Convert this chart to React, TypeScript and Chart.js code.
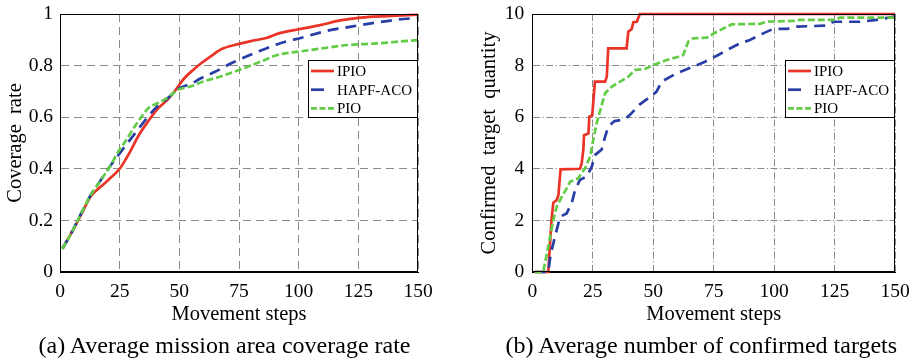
import React, { useEffect, useRef } from "react";
import { Chart, registerables } from "chart.js";

Chart.register(...registerables);

const FONT = '"Liberation Serif", "Times New Roman", Times, serif';

// ---------- (a) Average mission area coverage rate ----------
const stepsA_IPIO = [1, 5, 9, 13, 17, 20, 25, 29, 33, 37, 41, 45, 48, 52, 56, 59, 63, 68, 75, 80, 86, 92, 100, 109, 118, 126, 137, 150];
const coverageIPIO = [0.09, 0.155, 0.225, 0.295, 0.33, 0.355, 0.4, 0.46, 0.53, 0.585, 0.633, 0.667, 0.7, 0.75, 0.785, 0.808, 0.835, 0.865, 0.884, 0.895, 0.906, 0.926, 0.941, 0.957, 0.976, 0.986, 0.992, 0.997];

const stepsA_HAPF = [1, 5, 9, 13, 17, 21, 25, 30, 35, 40, 45, 50, 55, 59, 65, 72, 83, 92, 102, 112, 122, 132, 142, 150];
const coverageHAPF = [0.09, 0.155, 0.23, 0.3, 0.355, 0.41, 0.46, 0.52, 0.58, 0.635, 0.673, 0.712, 0.73, 0.751, 0.776, 0.81, 0.854, 0.886, 0.91, 0.935, 0.951, 0.966, 0.979, 0.985];

const stepsA_PIO = [1, 5, 9, 13, 17, 21, 24, 28, 31, 34, 37, 41, 45, 48, 50, 55, 60, 67, 75, 84, 91, 100, 110, 121, 133, 142, 150];
const coveragePIO = [0.09, 0.155, 0.23, 0.3, 0.355, 0.41, 0.46, 0.515, 0.56, 0.6, 0.635, 0.655, 0.675, 0.697, 0.708, 0.72, 0.738, 0.757, 0.783, 0.815, 0.841, 0.854, 0.867, 0.88, 0.886, 0.893, 0.899];

// ---------- (b) Average number of confirmed targets ----------
const stepsB_IPIO = [1, 6.6, 8.0, 8.7, 10.1, 10.8, 11.7, 19.7, 20.4, 21.1, 21.4, 23.2, 23.6, 24.8, 25.9, 30.1, 30.8, 31.4, 39.0, 39.7, 41.1, 41.8, 43.2, 44.5, 150];
const targetsIPIO = [0, 0, 2.08, 2.69, 2.79, 2.98, 3.98, 4, 4.2, 4.73, 5.3, 5.37, 6.02, 6.08, 7.38, 7.38, 7.57, 8.67, 8.67, 9.31, 9.42, 9.68, 9.7, 10, 10];

const stepsB_HAPF = [1, 6.6, 7.3, 8, 10.1, 11.5, 14.2, 16.3, 17.7, 19.7, 22.5, 24.6, 25.9, 28.7, 30.1, 31.4, 34, 38.3, 40.4, 44.5, 47.9, 51.4, 53.5, 59.7, 66.6, 71.4, 76.9, 80.4, 85.9, 90, 95.5, 99.6, 105.2, 109.3, 114.8, 121.8, 124.5, 135.5, 142.4, 150];
const targetsHAPF = [0, 0, 0.5, 0.85, 1.63, 2.14, 2.27, 2.67, 3.18, 3.57, 3.7, 4.08, 4.53, 4.75, 5.24, 5.63, 5.85, 5.92, 6.09, 6.5, 6.73, 6.99, 7.38, 7.7, 7.96, 8.15, 8.41, 8.6, 8.86, 8.99, 9.25, 9.42, 9.42, 9.51, 9.53, 9.55, 9.7, 9.7, 9.77, 9.9];

const stepsB_PIO = [1, 4.5, 6.6, 8.7, 10.1, 12.2, 14.2, 15.6, 19.0, 21.8, 23.9, 25.2, 26.6, 28.7, 30.1, 32.8, 36.3, 39.7, 42.5, 46.6, 50, 55.6, 60.4, 62.4, 64.5, 66.6, 72.1, 76.3, 82.5, 94.2, 96.9, 107.9, 110.7, 124.5, 127.2, 150];
const targetsPIO = [0, 0, 0.98, 2.02, 2.53, 2.92, 3.24, 3.5, 3.63, 4.02, 4.47, 5.12, 5.76, 6.47, 6.93, 7.18, 7.38, 7.57, 7.83, 7.87, 8.02, 8.22, 8.34, 8.41, 8.93, 9.06, 9.08, 9.31, 9.6, 9.62, 9.7, 9.73, 9.77, 9.77, 9.86, 9.86];

const seriesNames = ["IPIO", "HAPF-ACO", "PIO"];
const stepTicks = [0, 25, 50, 75, 100, 125, 150];
const coverageTicks = [0, 0.2, 0.4, 0.6, 0.8, 1];
const quantityTicks = [0, 2, 4, 6, 8, 10];

const COLORS = ["rgb(234,52,40)", "rgb(40,62,165)", "rgb(98,204,70)"];
const DASHES = [[], [11, 7], [7, 3]];
const LEGEND_DASHES = [[], [13, 40], [6, 2.5]];

function pts(xs: number[], ys: number[]) {
  return xs.map((x, i) => ({ x, y: ys[i] }));
}

const frameLegendPlugin = {
  id: "frameLegend",
  afterDatasetsDraw(chart: any) {
    const { ctx, chartArea: a } = chart;
    ctx.save();
    ctx.setLineDash([]);
    ctx.strokeStyle = "#000";
    ctx.lineWidth = 1;
    const L = Math.round(a.left) + 0.5;
    const T = Math.round(a.top) + 0.5;
    const R = Math.round(a.right) - 0.5;
    const B = Math.round(a.bottom) - 0.5;
    ctx.strokeRect(L, T, R - L, B - T);

    // legend box
    const w = 110;
    const h = 58;
    const x = Math.round(a.right) - w;
    const y = Math.round(a.top) + 46;
    ctx.fillStyle = "#fff";
    ctx.fillRect(x, y, w, h);
    ctx.strokeStyle = "#000";
    ctx.lineWidth = 1;
    ctx.strokeRect(x + 0.5, y + 0.5, w - 1, h - 1);
    chart.data.datasets.forEach((ds: any, i: number) => {
      const cy = y + 11 + i * 18.7;
      ctx.save();
      ctx.strokeStyle = ds.borderColor;
      ctx.lineWidth = ds.borderWidth;
      ctx.setLineDash(LEGEND_DASHES[i]);
      ctx.beginPath();
      ctx.moveTo(x + 3, cy);
      ctx.lineTo(x + 26, cy);
      ctx.stroke();
      ctx.restore();
      ctx.fillStyle = "#000";
      ctx.font = `15px ${FONT}`;
      ctx.textBaseline = "middle";
      ctx.textAlign = "left";
      ctx.fillText(ds.label, x + 29, cy + 1);
    });
    ctx.restore();
  },
};

type PanelProps = {
  width: number;
  xs: number[][];
  ys: number[][];
  yTicks: number[];
  yMax: number;
  yTitle: string;
  yAxisWidth: number;
  yTitlePad: number;
  yTickPad: number;
  gridDash: number[];
  padRight: number;
  smooth: boolean;
};

function ChartPanel(p: PanelProps) {
  const ref = useRef<HTMLCanvasElement | null>(null);
  useEffect(() => {
    if (!ref.current) return;
    const datasets = seriesNames.map((name, i) => ({
      label: name,
      data: pts(p.xs[i], p.ys[i]),
      borderColor: COLORS[i],
      backgroundColor: COLORS[i],
      borderWidth: 2.7,
      borderDash: DASHES[i],
      pointRadius: 0,
      fill: false,
      tension: 0,
      cubicInterpolationMode: p.smooth ? "monotone" : "default",
      clip: 4,
      order: 2 - i,
    }));
    const chart = new Chart(ref.current, {
      type: "line",
      data: { datasets } as any,
      options: {
        animation: false,
        responsive: false,
        maintainAspectRatio: false,
        layout: { padding: { left: 0, top: 14, right: p.padRight, bottom: 29 } },
        plugins: { legend: { display: false }, tooltip: { enabled: false } },
        scales: {
          x: {
            type: "linear",
            min: 0,
            max: 150,
            afterBuildTicks: (s: any) => {
              s.ticks = stepTicks.map((v) => ({ value: v }));
            },
            afterFit: (s: any) => {
              s.height = 60;
              s.paddingLeft = 0;
              s.paddingRight = 0;
            },
            ticks: {
              color: "#000",
              padding: 8,
              maxRotation: 0,
              autoSkip: false,
              font: { family: FONT, size: 19.5 },
              callback: (v: any) => String(v),
            },
            grid: { color: "#8a8a8a", lineWidth: 1, drawTicks: false },
            border: { display: true, color: "#000", width: 1, dash: p.gridDash },
            title: {
              display: true,
              text: "Movement steps",
              color: "#000",
              font: { family: FONT, size: 20.5 },
              padding: { top: 0, bottom: 5 },
            },
          },
          y: {
            type: "linear",
            min: 0,
            max: p.yMax,
            afterBuildTicks: (s: any) => {
              s.ticks = p.yTicks.map((v) => ({ value: v }));
            },
            afterFit: (s: any) => {
              s.width = p.yAxisWidth;
              s.paddingTop = 0;
              s.paddingBottom = 0;
            },
            ticks: {
              color: "#000",
              padding: p.yTickPad,
              autoSkip: false,
              font: { family: FONT, size: 19.5 },
              callback: (v: any) => String(v),
            },
            grid: { color: "#8a8a8a", lineWidth: 1, drawTicks: false },
            border: { display: true, color: "#000", width: 1, dash: p.gridDash },
            title: {
              display: true,
              text: p.yTitle,
              color: "#000",
              font: { family: FONT, size: 20.5 },
              padding: { top: p.yTitlePad, bottom: 0 },
            },
          },
        },
      } as any,
      plugins: [frameLegendPlugin],
    });
    return () => chart.destroy();
  }, []);
  return <canvas ref={ref} width={p.width} height={361} style={{ display: "block", width: p.width, height: 361 }} />;
}

const captionStyle: React.CSSProperties = {
  position: "absolute",
  top: 331,
  width: 520,
  textAlign: "center",
  fontFamily: FONT,
  fontSize: 24,
  lineHeight: "28px",
  whiteSpace: "nowrap",
  color: "#000",
};

export default function App() {
  return (
    <div style={{ position: "fixed", left: 0, top: 0, width: 918, height: 361, background: "#fff", overflow: "hidden" }}>
      <div style={{ position: "absolute", left: 0, top: 0 }}>
        <ChartPanel
          width={460}
          xs={[stepsA_IPIO, stepsA_HAPF, stepsA_PIO]}
          ys={[coverageIPIO, coverageHAPF, coveragePIO]}
          yTicks={coverageTicks}
          yMax={1}
          yTitle="Coverage  rate"
          yAxisWidth={60}
          yTitlePad={3}
          yTickPad={7}
          gridDash={[8, 5]}
          padRight={42}
          smooth={true}
        />
      </div>
      <div style={{ position: "absolute", left: 460, top: 0 }}>
        <ChartPanel
          width={458}
          xs={[stepsB_IPIO, stepsB_HAPF, stepsB_PIO]}
          ys={[targetsIPIO, targetsHAPF, targetsPIO]}
          yTicks={quantityTicks}
          yMax={10}
          yTitle="Confirmed  target  quantity"
          yAxisWidth={72.3}
          yTitlePad={17.7}
          yTickPad={8}
          gridDash={[7, 2.5, 1.2, 2.5]}
          padRight={23}
          smooth={false}
        />
      </div>
      <div style={{ ...captionStyle, left: 224.5 - 260 }}>(a) Average mission area coverage rate</div>
      <div style={{ ...captionStyle, left: 701.3 - 260 }}>(b) Average number of confirmed targets</div>
    </div>
  );
}
